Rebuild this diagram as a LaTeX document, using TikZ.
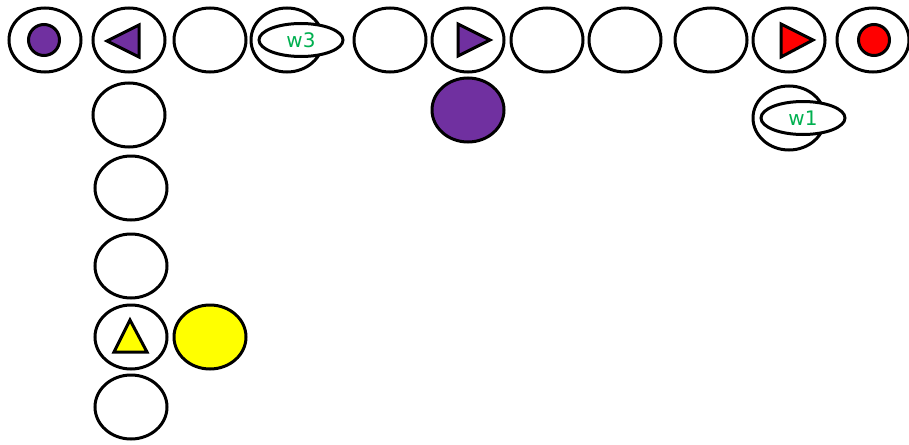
\documentclass[tikz,border=0pt]{standalone}
\usepackage{fontspec}
\setmainfont{DejaVu Sans}
\usetikzlibrary{shapes.geometric}
\definecolor{vio}{RGB}{112,48,160}
\definecolor{wgreen}{RGB}{0,176,80}
\definecolor{yel}{RGB}{255,255,0}
\tikzset{
  ell/.style={ellipse,draw=black,line width=3pt,fill=white,minimum width=72pt,minimum height=64pt,inner sep=0pt},
  dot/.style={circle,draw=black,line width=3pt,minimum size=31pt,inner sep=0pt},
  wlab/.style={ellipse,draw=black,line width=3pt,fill=white,minimum width=84pt,minimum height=33pt,inner sep=0pt,text=wgreen,font=\fontsize{20}{22}\selectfont},
  tri/.style={draw=black,line width=3pt,line join=miter}
}
\begin{document}
\begin{tikzpicture}[x=1pt,y=-1pt]
\useasboundingbox (0,0) rectangle (909,444);
% top row
\node[ell] (t1) at (45,40) {};
\node[ell] (t2) at (129,40) {};
\node[ell] (t3) at (210,40) {};
\node[ell] (t4) at (287,40) {};
\node[ell] (t5) at (390,40) {};
\node[ell] (t6) at (468,40) {};
\node[ell] (t7) at (547,40) {};
\node[ell] (t8) at (625,40) {};
\node[ell] (t9) at (711,40) {};
\node[ell] (t10) at (789,40) {};
\node[ell] (t11) at (873,40) {};
% left column
\node[ell] (c1) at (129,115) {};
\node[ell] (c2) at (131,188) {};
\node[ell] (c3) at (131,266) {};
\node[ell] (c4) at (131,337) {};
\node[ell] (c5) at (131,407) {};
% others
\node[ell,fill=vio] (pbig) at (468,110) {};
\node[ell,fill=yel] (ybig) at (210,337) {};
\node[ell] (w1c) at (789,118) {};
% labels
\node[wlab] (w3) at (301,40) {w3};
\node[wlab] (w1) at (803,118) {w1};
% dots
\node[dot,fill=vio] (pdot) at (44,40) {};
\node[dot,fill=red] (rdot) at (874,40) {};
% triangles
\draw[tri,fill=vio] (107,41) -- (139,25) -- (139,57) -- cycle;
\draw[tri,fill=vio] (490,40) -- (458,24) -- (458,56) -- cycle;
\draw[tri,fill=red] (813,40) -- (781,24) -- (781,57) -- cycle;
\draw[tri,fill=yel] (130,320) -- (147,352) -- (114,352) -- cycle;
\end{tikzpicture}
\end{document}
